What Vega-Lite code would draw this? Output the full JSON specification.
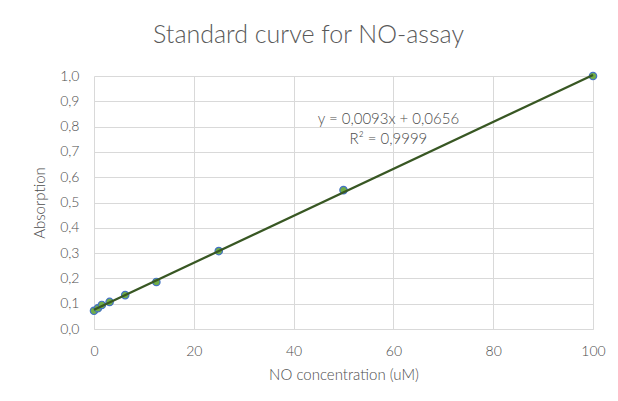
{
  "$schema": "https://vega.github.io/schema/vega-lite/v6.json",
  "width": 499,
  "height": 253,
  "autosize": {"type": "none"},
  "padding": {"left": 94, "top": 76, "right": 25, "bottom": 72},
  "background": "white",
  "config": {
    "locale": {"number": {"decimal": ",", "thousands": ".", "grouping": [3], "currency": ["", " €"]}},
    "font": "Lato",
    "view": {"stroke": null},
    "axis": {
      "gridColor": "#d9d9d9",
      "gridWidth": 1,
      "ticks": false,
      "labelFlush": false,
      "labelColor": "#4d4d4d",
      "labelFontSize": 14,
      "labelFont": "Lato",
      "labelFontWeight": 300,
      "titleColor": "#4d4d4d",
      "titleFontSize": 15,
      "titleFontWeight": 300,
      "titleFont": "Lato"
    }
  },
  "title": {
    "text": "Standard curve for NO-assay",
    "fontSize": 25,
    "font": "Lato",
    "fontWeight": 300,
    "color": "#595959",
    "anchor": "middle",
    "dx": -35,
    "offset": 21
  },
  "datasets": {
    "points": [
      {"conc": 0, "abs": 0.072},
      {"conc": 0.78125, "abs": 0.082},
      {"conc": 1.5625, "abs": 0.095},
      {"conc": 3.125, "abs": 0.107},
      {"conc": 6.25, "abs": 0.134},
      {"conc": 12.5, "abs": 0.186},
      {"conc": 25, "abs": 0.308},
      {"conc": 50, "abs": 0.549},
      {"conc": 100, "abs": 1.0}
    ],
    "labels": [
      {"conc": 59, "abs": 0.83, "label": "y = 0,0093x + 0,0656"},
      {"conc": 59, "abs": 0.751, "label": "R² = 0,9999"}
    ]
  },
  "encoding": {
    "x": {
      "field": "conc", "type": "quantitative",
      "scale": {"domain": [0, 100], "nice": false},
      "axis": {"title": "NO concentration (uM)", "values": [0, 20, 40, 60, 80, 100], "format": "d", "labelPadding": 15, "titlePadding": 9, "domain": true, "domainColor": "#d9d9d9", "grid": true, "labelOverlap": false}
    },
    "y": {
      "field": "abs", "type": "quantitative",
      "scale": {"domain": [0, 1], "nice": false},
      "axis": {"title": "Absorption", "tickCount": 11, "format": ".1f", "labelPadding": 15, "titlePadding": 12, "domain": false, "grid": true, "labelOverlap": false, "labelSeparation": 0}
    }
  },
  "layer": [
    {
      "data": {"name": "points"},
      "mark": {"type": "point", "filled": true, "fill": "#70ad47", "stroke": "#4472c4", "strokeWidth": 1.2, "size": 55, "opacity": 1}
    },
    {
      "data": {"name": "points"},
      "transform": [{"regression": "abs", "on": "conc", "extent": [0, 100]}],
      "mark": {"type": "line", "color": "#385723", "strokeWidth": 2.25}
    },
    {
      "data": {"name": "labels"},
      "mark": {"type": "text", "fontSize": 15, "fontWeight": 300, "color": "#4d4d4d", "font": "Lato", "align": "center", "baseline": "middle"},
      "encoding": {
        "text": {"field": "label"}
      }
    }
  ]
}
